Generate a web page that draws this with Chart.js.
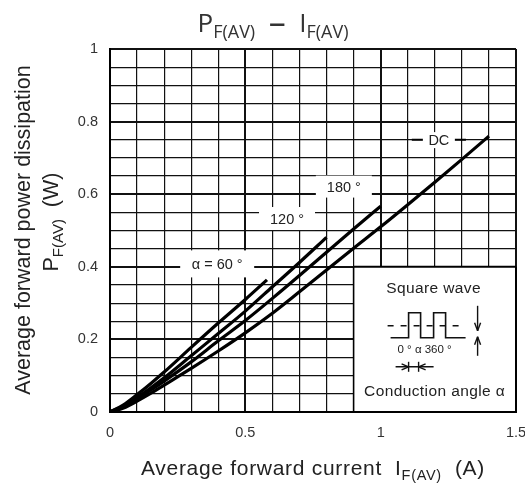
<!DOCTYPE html>
<html>
<head>
<meta charset="utf-8">
<script src="https://cdn.jsdelivr.net/npm/chart.js@4"></script>
<style>
  html, body { margin: 0; padding: 0; background: #fff; }
</style>
</head>
<body>
<canvas id="myChart" width="525" height="483"></canvas>
<script>
'use strict';

// average forward current (A) / average forward power dissipation (W)
const currentDC = [0, 0.05, 0.1, 0.15, 0.2, 0.3, 0.4, 0.5, 0.6, 0.7, 0.8, 0.9, 1.0, 1.1, 1.2, 1.3, 1.4];
const powerDC   = [0, 0.011, 0.03, 0.051, 0.074, 0.12, 0.168, 0.218, 0.272, 0.331, 0.391, 0.451, 0.51, 0.571, 0.633, 0.696, 0.76];

const current180 = [0, 0.05, 0.1, 0.15, 0.2, 0.3, 0.4, 0.5, 0.6, 0.7, 0.8, 0.9, 1.0];
const power180   = [0, 0.015, 0.036, 0.06, 0.085, 0.138, 0.196, 0.252, 0.313, 0.376, 0.44, 0.504, 0.567];

const current120 = [0, 0.05, 0.1, 0.15, 0.2, 0.3, 0.4, 0.5, 0.6, 0.7, 0.8];
const power120   = [0, 0.017, 0.04, 0.066, 0.094, 0.155, 0.216, 0.278, 0.345, 0.412, 0.481];

const current60 = [0, 0.05, 0.1, 0.15, 0.2, 0.3, 0.4, 0.5, 0.58];
const power60   = [0, 0.02, 0.048, 0.078, 0.11, 0.178, 0.245, 0.31, 0.364];

const curveNames = ['DC', '180 °', '120 °', 'α = 60 °'];

const xLabelValues = [0, 0.5, 1, 1.5];
const yLabelValues = [0, 0.2, 0.4, 0.6, 0.8, 1];

const SANS = 'Liberation Sans, Arial, sans-serif';

function toPoints(xs, ys) {
    return xs.map((x, i) => ({ x: x, y: ys[i] }));
}

function isOneOf(value, list) {
    return list.some(v => Math.abs(v - value) < 1e-6);
}

function curve(points) {
    return {
        data: points,
        borderColor: '#000',
        borderWidth: 3.2,
        pointRadius: 0,
        fill: false,
        cubicInterpolationMode: 'monotone'
    };
}

// text made of pieces with their own font and baseline shift (for subscripts)
function drawParts(ctx, parts, x, y) {
    let total = 0;
    parts.forEach(p => { ctx.font = p[1]; total += ctx.measureText(p[0]).width; });
    let cx = x - total / 2;
    parts.forEach(p => {
        ctx.font = p[1];
        ctx.fillText(p[0], cx, y + p[2]);
        cx += ctx.measureText(p[0]).width;
    });
}

function line(ctx, x1, y1, x2, y2) {
    ctx.beginPath();
    ctx.moveTo(x1, y1);
    ctx.lineTo(x2, y2);
    ctx.stroke();
}

let annotations = {
    id: 'annotations',

    // label tags on the curves, in data units
    tags: [
        { text: curveNames[0], x: 1.215, y: 0.749, w: 32, h: 16, lead: [1.115, 1.315] },
        { text: curveNames[1], x: 0.864, y: 0.621, w: 56, h: 22 },
        { text: curveNames[2], x: 0.654, y: 0.533, w: 56, h: 23 },
        { text: curveNames[3], x: 0.396, y: 0.408, w: 74, h: 27 }
    ],

    beforeDatasetsDraw(chart) {
        const ctx = chart.ctx;
        const sx = chart.scales.x, sy = chart.scales.y;
        ctx.save();

        this.tags.forEach(tag => {
            const cx = sx.getPixelForValue(tag.x);
            const cy = sy.getPixelForValue(tag.y);
            if (tag.lead) {
                ctx.strokeStyle = '#000';
                ctx.lineWidth = 2;
                line(ctx, sx.getPixelForValue(tag.lead[0]), sy.getPixelForValue(0.75),
                    sx.getPixelForValue(tag.lead[1]), sy.getPixelForValue(0.75));
            }
            ctx.fillStyle = '#fff';
            ctx.fillRect(cx - tag.w / 2, cy - tag.h / 2, tag.w, tag.h);
            ctx.fillStyle = '#222';
            ctx.font = '14.5px ' + SANS;
            ctx.textAlign = 'center';
            ctx.textBaseline = 'middle';
            ctx.fillText(tag.text, cx, cy + 1);
        });

        // square wave inset, lower right block of the grid
        const L = sx.getPixelForValue(0.9), R = sx.getPixelForValue(1.5);
        const T = sy.getPixelForValue(0.4), B = sy.getPixelForValue(0);
        ctx.fillStyle = '#fff';
        ctx.fillRect(L, T, R - L, B - T);
        ctx.strokeStyle = '#000';
        ctx.lineWidth = 1.6;
        line(ctx, L, T, L, B);
        ctx.lineWidth = 2;
        line(ctx, L, T, R, T);
        line(ctx, R, T, R, B);
        line(ctx, L, B, R, B);

        ctx.fillStyle = '#222';
        ctx.textAlign = 'center';
        ctx.textBaseline = 'middle';
        ctx.letterSpacing = '0.4px';
        ctx.font = '15.5px ' + SANS;
        ctx.fillText('Square wave', L + 80, T + 22);
        ctx.fillText('Conduction angle α', L + 81, T + 125);
        ctx.letterSpacing = '0px';
        ctx.font = '11.5px ' + SANS;
        ctx.fillText('0 ° α 360 °', L + 71, T + 83);

        // pulse train
        const lo = T + 71, hi = T + 46;
        ctx.lineWidth = 1.6;
        ctx.strokeStyle = '#111';
        ctx.beginPath();
        ctx.moveTo(L + 37, lo);
        [[55, lo], [55, hi], [67, hi], [67, lo], [80, lo], [80, hi], [92, hi], [92, lo], [112, lo]]
            .forEach(p => ctx.lineTo(L + p[0], p[1]));
        ctx.stroke();
        ctx.setLineDash([6, 7]);
        line(ctx, L + 34, T + 59, L + 110, T + 59);
        ctx.setLineDash([]);

        // amplitude arrows
        const ax = L + 124;
        ctx.lineWidth = 1.4;
        line(ctx, ax, T + 39, ax, T + 64);
        line(ctx, ax - 3, T + 56, ax, T + 64);
        line(ctx, ax + 3, T + 56, ax, T + 64);
        line(ctx, ax, T + 70, ax, T + 89);
        line(ctx, ax - 3, T + 78, ax, T + 70);
        line(ctx, ax + 3, T + 78, ax, T + 70);

        // conduction width arrows
        const ay = T + 100;
        line(ctx, L + 42, ay, L + 80, ay);
        line(ctx, L + 55, ay - 5, L + 55, ay + 5);
        line(ctx, L + 65, ay - 5, L + 65, ay + 5);
        line(ctx, L + 48, ay - 3, L + 55, ay);
        line(ctx, L + 48, ay + 3, L + 55, ay);
        line(ctx, L + 72, ay - 3, L + 65, ay);
        line(ctx, L + 72, ay + 3, L + 65, ay);

        ctx.restore();
    },

    afterDraw(chart) {
        const ctx = chart.ctx;
        ctx.save();
        ctx.textAlign = 'left';
        ctx.textBaseline = 'alphabetic';

        ctx.fillStyle = '#333';
        drawParts(ctx, [
            ['P', '26px Open Sans', 0],
            ['F(AV)', '18px Open Sans', 6],
            ['  ', '26px Open Sans', 0],
            ['–', '34px Open Sans', 2],
            ['  ', '26px Open Sans', 0],
            ['I', '26px Open Sans', 0],
            ['F(AV)', '18px Open Sans', 6]
        ], 273, 32);

        ctx.fillStyle = '#222';
        ctx.letterSpacing = '0.7px';
        drawParts(ctx, [
            ['Average forward current  ', '21px ' + SANS, 0],
            ['I', '21px ' + SANS, 0],
            ['F(AV)', '14.5px ' + SANS, 5],
            ['  (A)', '21px ' + SANS, 0]
        ], 313, 475);
        ctx.letterSpacing = '0px';

        ctx.translate(30, 230);
        ctx.rotate(-Math.PI / 2);
        drawParts(ctx, [['Average forward power dissipation', '21.5px ' + SANS, 0]], 0, 0);
        ctx.rotate(Math.PI / 2);
        ctx.translate(28, -8);
        ctx.rotate(-Math.PI / 2);
        drawParts(ctx, [
            ['P', '21.5px ' + SANS, 0],
            ['F(AV)', '15px ' + SANS, 5],
            ['  (W)', '21.5px ' + SANS, 0]
        ], 0, 0);

        ctx.restore();
    }
};

function gridWidth(list) {
    return ctx => (ctx.tick && isOneOf(ctx.tick.value, list)) ? 2 : 1.2;
}

const chartConfig = {
    type: 'line',
    data: {
        datasets: [
            curve(toPoints(currentDC, powerDC)),
            curve(toPoints(current180, power180)),
            curve(toPoints(current120, power120)),
            curve(toPoints(current60, power60))
        ]
    },
    options: {
        responsive: false,
        animation: false,
        layout: { padding: { top: 49, right: 9, left: 0, bottom: 0 } },
        plugins: {
            legend: { display: false },
            tooltip: { enabled: false }
        },
        scales: {
            x: {
                type: 'linear',
                min: 0,
                max: 1.5,
                ticks: {
                    stepSize: 0.1,
                    autoSkip: false,
                    maxRotation: 0,
                    padding: 12,
                    color: '#333',
                    font: { family: SANS, size: 14.5 },
                    callback: v => isOneOf(v, xLabelValues) ? String(Math.round(v * 10) / 10) : ''
                },
                grid: { color: '#111', lineWidth: gridWidth(xLabelValues), drawTicks: false },
                border: { color: '#000', width: 2 },
                afterFit: scale => {
                    scale.height = 71;
                    scale.paddingLeft = 0;
                    scale.paddingRight = 0;
                }
            },
            y: {
                type: 'linear',
                min: 0,
                max: 1,
                ticks: {
                    stepSize: 0.05,
                    autoSkip: false,
                    padding: 12,
                    color: '#333',
                    font: { family: SANS, size: 14.5 },
                    callback: v => isOneOf(v, yLabelValues) ? String(Math.round(v * 10) / 10) : ''
                },
                grid: { color: '#111', lineWidth: gridWidth(yLabelValues), drawTicks: false },
                border: { color: '#000', width: 2 },
                afterFit: scale => {
                    scale.width = 110;
                    scale.paddingTop = 0;
                    scale.paddingBottom = 0;
                }
            }
        }
    },
    plugins: [annotations]
};

new Chart(document.getElementById('myChart'), chartConfig);
</script>
</body>
</html>
